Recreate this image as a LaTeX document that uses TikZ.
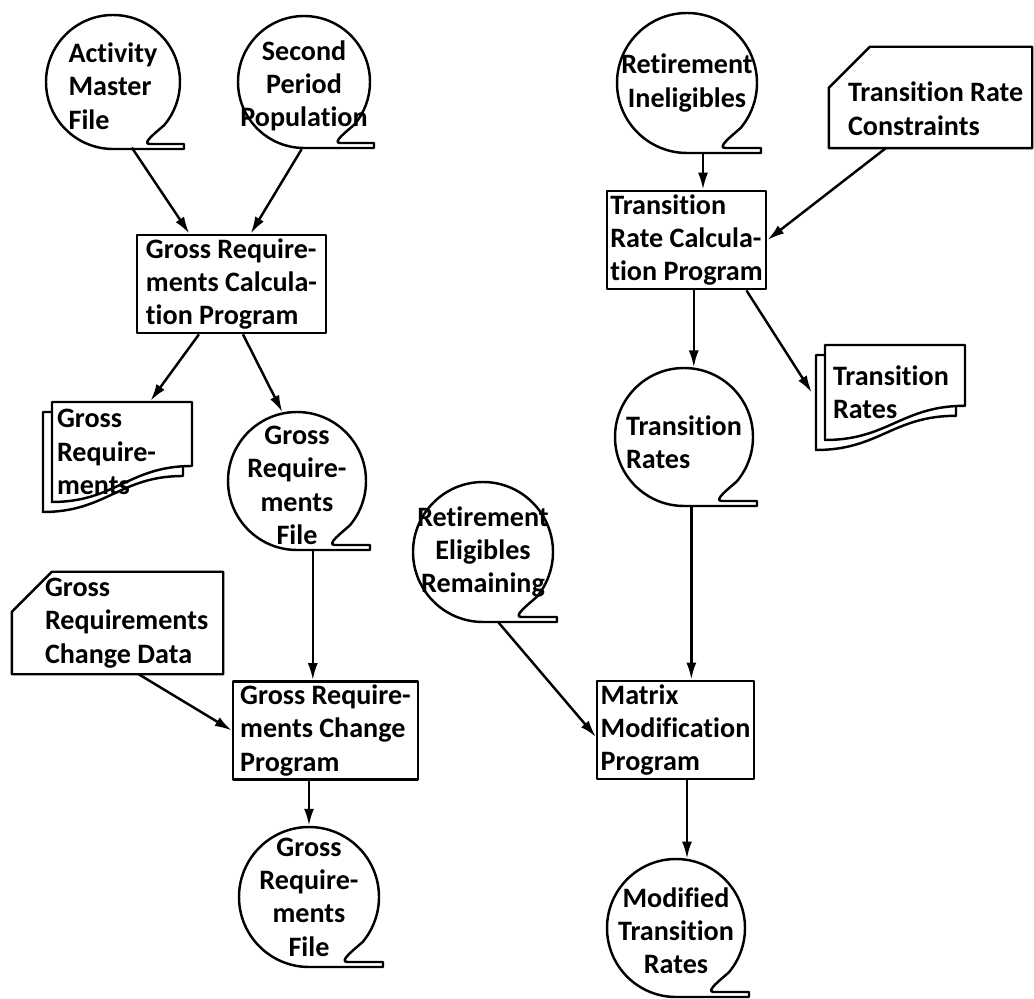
\documentclass[tikz,border=0pt]{standalone}
\usepackage{fontspec}
\setmainfont{Carlito}[Ligatures=NoCommon]
\usetikzlibrary{arrows.meta}
\usetikzlibrary{calc}
\hyphenpenalty=10000

\tikzset{
  tape/.style={circle, minimum size={2*#1*0.02cm}, inner sep=-1cm, align=center},
  prog/.style 2 args={rectangle, draw, align=left, inner sep=2pt,
    minimum width={#1*0.02cm}, minimum height={#2*0.02cm}},
  sheet/.style n args={3}{rectangle, align=flush left, inner ysep=2pt, inner xsep={#3*0.02cm},
    minimum width={#1*0.02cm}, minimum height={#2*0.02cm}, text width={(#1-2*#3)*0.02cm}},
  flow/.style={-{Latex[length=3.4mm,width=2mm]}}
}

\newcommand{\tapereel}[2]{%
  \draw[shift={(#1.center)}] (0,-#2) arc[start angle=270, end angle=-40, radius={#2*0.02cm}]
    to[out=222, in=180] ({0.55*#2},{5-#2}) -- ({#2+4},{5-#2}) -- ({#2+4},-#2) -- cycle;}
\newcommand{\docpages}[3]{%
  \draw[shift={(#1.center)}] (-#2,#3) -- (#2,#3) -- (#2,{-0.28*#3})
    .. controls ({0.1*#2},{-0.28*#3}) and ({-0.1*#2},-#3) .. (-#2,-#3) -- cycle;
  \draw[shift={(#1.center)}] (-#2,{#3-10}) -- ({-#2-9},{#3-10}) -- ({-#2-9},{-#3-10})
    .. controls ({-0.1*#2-9},{-#3-10}) and ({0.1*#2-9},{-0.28*#3-10}) .. ({#2-9},{-0.28*#3-10})
    -- ({#2-9},{-0.28*#3-1});}
\newcommand{\cardedge}[2]{%
  \draw (#1.south west) -- (#1.south east) -- (#1.north east) -- ([xshift=#2]#1.north west)
    -- ([yshift=-#2]#1.north west) -- cycle;}

\begin{document}
\begin{tikzpicture}[x=0.02cm, y=0.02cm, line width=1.4pt, line join=round,
  font=\fontsize{16}{19}\selectfont\bfseries]
\useasboundingbox (0,0) rectangle (1034,-999);

\node[tape=67, align=left] (amf) at (113,-82) {\rule{0pt}{0.55cm}Activity\\Master\\File};
\node[tape=66] (spp) at (304,-82) {\rule{0pt}{0.55cm}Second\\Period\\Population};
\node[tape=70] (ri) at (687,-83) {Retirement\\Ineligibles};
\node[tape=69, align=left] (tr) at (684,-437) {\rule{0pt}{0.6cm}Transition\\Rates};
\node[tape=69] (grfa) at (297,-481) {\rule{0pt}{0.55cm}Gross\\Require-\\ments\\File};
\node[tape=70] (rer) at (483,-552) {Retirement\\Eligibles\\Remaining};
\node[tape=70] (grfb) at (309,-897) {Gross\\Require-\\ments\\File};
\node[tape=69] (mtr) at (676,-928) {\rule{0pt}{0.5cm}Modified\\Transition\\Rates};
\foreach \n/\r in {amf/67, spp/66, ri/70, tr/69, grfa/69, rer/70, grfb/70, mtr/69}
  \tapereel{\n}{\r};

\node[prog={189}{98}] (grcp) at (231.5,-284) {Gross Require-\\ments Calcula-\\tion Program};
\node[prog={153}{96}] (trc) at (686.5,-240) {Transition\\Rate Calcula-\\tion Program};
\node[prog={185}{97}] (grchp) at (325.5,-730.5) {Gross Require-\\ments Change\\Program};
\node[prog={155}{96}] (mmp) at (675.5,-730) {Matrix\\Modification\\Program};

\node[sheet={140}{100}{5}] (grdoc) at (122,-452) {Gross\\Require-\\ments};
\node[sheet={140}{95}{8}] (trdoc) at (895,-392.5) {Transition\\Rates};
\docpages{grdoc}{70}{50}
\docpages{trdoc}{70}{47.5}

\node[sheet={209}{100}{32}] (grcd) at (117.5,-623) {Gross\\Requirements\\\mbox{Change Data}};
\node[sheet={201}{99}{18}] (trcon) at (930.5,-97.5) {\rule{0pt}{0.84cm}\mbox{Transition Rate}\\Constraints};
\cardedge{grcd}{0.8cm}
\cardedge{trcon}{0.82cm}

\draw[flow] (amf.286) -- ($(grcp.north west)!0.28!(grcp.north east)$);
\draw[flow] (spp.268) -- ($(grcp.north west)!0.6!(grcp.north east)$);
\draw[flow] ($(grcp.south west)!0.33!(grcp.south east)$) -- ($(grdoc.north west)!0.7!(grdoc.north east)$);
\draw[flow] ($(grcp.south west)!0.56!(grcp.south east)$) -- (grfa.102);
\draw[flow] (grfa.283) -- (grfa.283 |- grchp.north);
\draw[flow] ($(grcd.south west)!0.6!(grcd.south east)$) -- (grchp.west);
\draw[flow] (grfb.north |- grchp.south) -- (grfb.north);
\draw[flow] (ri.283) -- (ri.283 |- trc.north);
\draw[flow] ($(trcon.south west)!0.28!(trcon.south east)$) -- (trc.east);
\draw[flow] (tr.82 |- trc.south) -- (tr.82);
\draw[flow] ($(trc.south west)!0.87!(trc.south east)$) -- ([xshift=-0.24cm]trdoc.west);
\draw[flow] (tr.276) -- (tr.276 |- mmp.north);
\draw[flow] (rer.282) -- ([yshift=-0.14cm]mmp.west);
\draw[flow] (mtr.81 |- mmp.south) -- (mtr.81);
\end{tikzpicture}
\end{document}
